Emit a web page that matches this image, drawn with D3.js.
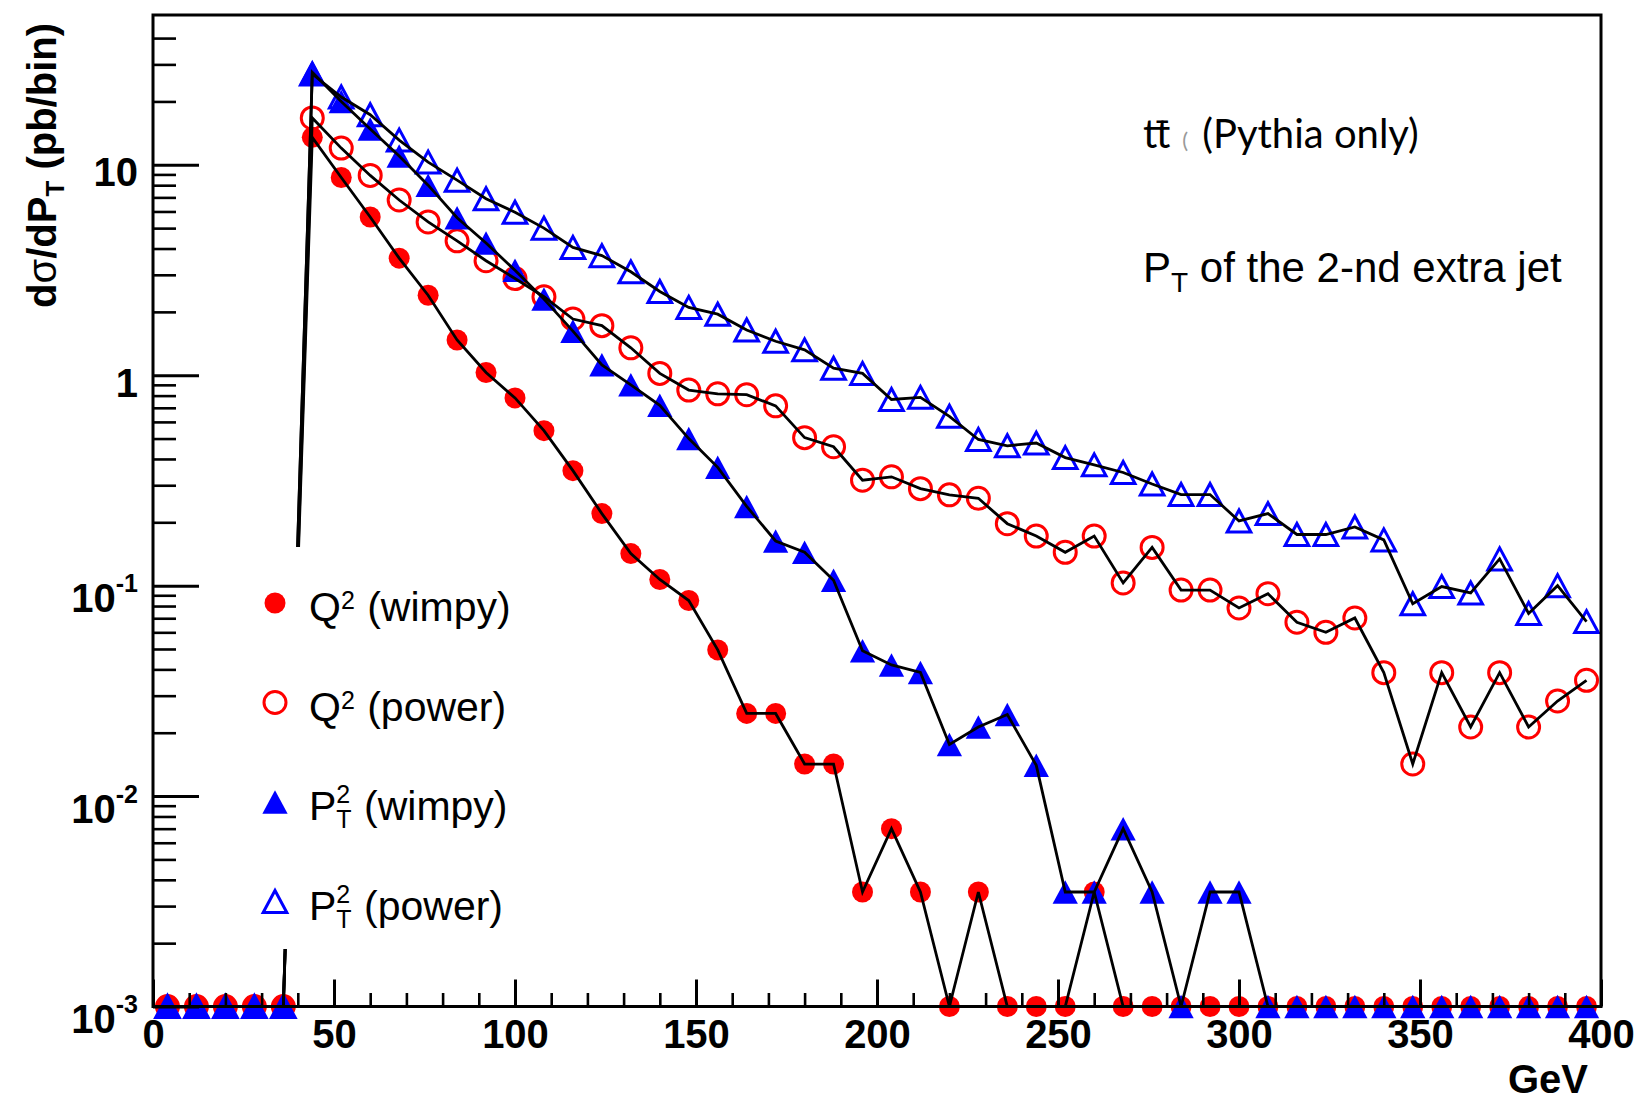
<!DOCTYPE html>
<html>
<head>
<meta charset="utf-8">
<title>PT of the 2-nd extra jet</title>
<script src="https://cdn.jsdelivr.net/npm/d3@7"></script>
<style>
  body { margin: 0; background: #fff; }
  text { font-family: "Liberation Sans", Arial, sans-serif; fill: #000; white-space: pre; }
</style>
</head>
<body>
<svg width="1644" height="1101"></svg>
<script>
// bin centres (GeV), 8 GeV bins
var binCenters = [4, 12, 20, 28, 36, 44, 52, 60, 68, 76, 84, 92, 100, 108, 116, 124, 132, 140, 148, 156,
  164, 172, 180, 188, 196, 204, 212, 220, 228, 236, 244, 252, 260, 268, 276, 284, 292, 300, 308, 316,
  324, 332, 340, 348, 356, 364, 372, 380, 388, 396];

// d sigma / dPT (pb/bin), 0 = empty bin
var q2Wimpy = [0, 0, 0, 0, 0, 13.5, 8.7, 5.65, 3.6, 2.4, 1.47, 1.03, 0.78, 0.545, 0.352, 0.22, 0.142, 0.107, 0.085, 0.0495,
  0.0247, 0.0247, 0.0142, 0.0142, 0.0035, 0.0070, 0.0035, 0, 0.0035, 0, 0, 0, 0.0035, 0, 0, 0, 0, 0, 0, 0,
  0, 0, 0, 0, 0, 0, 0, 0, 0, 0];
var q2Power = [0, 0, 0, 0, 0, 16.7, 12.0, 8.9, 6.8, 5.35, 4.35, 3.5, 2.88, 2.36, 1.85, 1.72, 1.35, 1.02, 0.85, 0.816,
  0.808, 0.715, 0.505, 0.457, 0.317, 0.329, 0.289, 0.27, 0.26, 0.197, 0.172, 0.144, 0.172, 0.103, 0.152, 0.0953, 0.0953, 0.0783, 0.0916, 0.067,
  0.06, 0.0702, 0.0386, 0.0142, 0.0386, 0.0213, 0.0386, 0.0213, 0.0283, 0.0355];
var pt2Wimpy = [0, 0, 0, 0, 0, 27.5, 20, 14.8, 11, 8.0, 5.6, 4.25, 3.15, 2.3, 1.62, 1.12, 0.90, 0.72, 0.50, 0.365,
  0.238, 0.163, 0.144, 0.106, 0.049, 0.042, 0.0387, 0.0176, 0.0213, 0.0244, 0.014, 0.0035, 0.0035, 0.0070, 0.0035, 0, 0.0035, 0.0035, 0, 0,
  0, 0, 0, 0, 0, 0, 0, 0, 0, 0];
var pt2Power = [0, 0, 0, 0, 0, 27, 21, 17.3, 13.1, 10.3, 8.45, 6.9, 5.95, 5.0, 4.05, 3.7, 3.1, 2.5, 2.1, 1.95,
  1.64, 1.45, 1.32, 1.08, 1.02, 0.767, 0.785, 0.638, 0.495, 0.462, 0.476, 0.406, 0.375, 0.345, 0.304, 0.271, 0.271, 0.203, 0.220, 0.175,
  0.175, 0.19, 0.165, 0.082, 0.099, 0.0923, 0.134, 0.0738, 0.1, 0.0675];

var xMajorTicks = [0, 50, 100, 150, 200, 250, 300, 350, 400];
var xMinorTicks = [10, 20, 30, 40, 60, 70, 80, 90, 110, 120, 130, 140, 160, 170, 180, 190, 210, 220, 230, 240,
  260, 270, 280, 290, 310, 320, 330, 340, 360, 370, 380, 390];
var yMajorTicks = [0.001, 0.01, 0.1, 1, 10];
var yMinorTicks = [0.002, 0.003, 0.004, 0.005, 0.006, 0.007, 0.008, 0.009,
  0.02, 0.03, 0.04, 0.05, 0.06, 0.07, 0.08, 0.09,
  0.2, 0.3, 0.4, 0.5, 0.6, 0.7, 0.8, 0.9,
  2, 3, 4, 5, 6, 7, 8, 9, 20, 30, 40];

var svg = d3.select("svg"),
    margin = {top: 15, right: 43, bottom: 94.5, left: 153},
    width = +svg.attr("width") - margin.left - margin.right,
    height = +svg.attr("height") - margin.top - margin.bottom,
    yFloor = 1e-3;

var x = d3.scaleLinear().domain([0, 400]).range([0, width]);
var y = d3.scaleLog().domain([yFloor, 51.5]).range([height, 0]);

var g = svg.append("g").attr("transform", `translate(${margin.left},${margin.top})`);

// ROOT style triangle, centred on its box
var triangle = {
  draw: function (ctx, size) {
    var r = Math.sqrt(size) / 2, h = r * 0.93;
    ctx.moveTo(-r, h); ctx.lineTo(r, h); ctx.lineTo(0, -h); ctx.closePath();
  }
};

var series = [
  {name: "q2Power", values: q2Power, marker: "circle", fill: "none", stroke: "#ff0000"},
  {name: "q2Wimpy", values: q2Wimpy, marker: "circle", fill: "#ff0000", stroke: "none"},
  {name: "pt2Power", values: pt2Power, marker: "triangle", fill: "none", stroke: "#0000ff"},
  {name: "pt2Wimpy", values: pt2Wimpy, marker: "triangle", fill: "#0000ff", stroke: "none"}
];

function clampY(v) { return y(v > yFloor ? v : yFloor); }

function drawMarker(sel, s) {
  if (s.marker === "circle") {
    sel.append("circle").attr("r", s.fill === "none" ? 11 : 10.5)
      .attr("fill", s.fill).attr("stroke", s.stroke).attr("stroke-width", 3);
  } else {
    sel.append("path").attr("d", d3.symbol().type(triangle).size(s.fill === "none" ? 560 : 640)())
      .attr("fill", s.fill).attr("stroke", s.stroke).attr("stroke-width", 3);
  }
}

// markers
series.forEach(function (s) {
  var mg = g.append("g").attr("class", "markers " + s.name);
  s.values.forEach(function (v, i) {
    var m = mg.append("g").attr("transform", `translate(${x(binCenters[i])},${clampY(v)})`);
    drawMarker(m, s);
  });
});

// black lines through the points
var line = d3.line()
  .x(function (d, i) { return x(binCenters[i]); })
  .y(function (d) { return clampY(d); });

series.forEach(function (s) {
  g.append("path").attr("class", "curve")
    .attr("fill", "none").attr("stroke", "#000").attr("stroke-width", 2.8)
    .attr("stroke-linejoin", "miter")
    .attr("d", line(s.values));
});

// axes, ticks inward
var xAxis = g.append("g").attr("transform", `translate(0,${height})`)
  .call(d3.axisBottom(x).tickValues(xMajorTicks).tickSizeInner(-27).tickSizeOuter(0).tickFormat(d3.format("d")));
xAxis.select(".domain").remove();
xAxis.selectAll("line").attr("stroke-width", 3);
xAxis.selectAll("text").attr("y", 41).attr("dy", null)
  .style("font-size", "40px").style("font-weight", "bold");

var xMinor = g.append("g").attr("transform", `translate(0,${height})`)
  .call(d3.axisBottom(x).tickValues(xMinorTicks).tickSizeInner(-13.5).tickSizeOuter(0).tickFormat(""));
xMinor.select(".domain").remove();
xMinor.selectAll("line").attr("stroke-width", 2.6);

var yAxis = g.append("g")
  .call(d3.axisLeft(y).tickValues(yMajorTicks).tickSizeInner(-46).tickSizeOuter(0).tickFormat(""));
yAxis.select(".domain").remove();
yAxis.selectAll("line").attr("stroke-width", 3);
yAxis.selectAll(".tick text").remove();
yAxis.selectAll(".tick").each(function (d) {
  var exp = Math.round(Math.log10(d));
  var t = d3.select(this).append("text").attr("x", -15).attr("text-anchor", "end")
    .style("font-size", "40px").style("font-weight", "bold");
  if (exp >= 0) {
    t.attr("y", 21).text(d3.format("d")(d));
  } else {
    t.attr("y", 26);
    t.append("tspan").text("10");
    t.append("tspan").attr("dy", -20).style("font-size", "25px").text(exp);
  }
});

var yMinor = g.append("g")
  .call(d3.axisLeft(y).tickValues(yMinorTicks).tickSizeInner(-23).tickSizeOuter(0).tickFormat(""));
yMinor.select(".domain").remove();
yMinor.selectAll("line").attr("stroke-width", 2.6);

// frame
g.append("rect").attr("width", width).attr("height", height)
  .attr("fill", "none").attr("stroke", "#000").attr("stroke-width", 3);

// rich text: pieces laid out left to right, "hold" stacks the next piece on top
function richText(parent, x0, y0, parts, anchor) {
  var grp = parent.append("g");
  var cx = 0, held = 0;
  parts.forEach(function (p) {
    var t = grp.append("text").attr("x", cx).attr("y", p.shift || 0)
      .attr("xml:space", "preserve")
      .style("font-size", p.size + "px")
      .style("font-weight", p.weight || "normal")
      .text(p.t);
    if (p.family) t.style("font-family", p.family);
    if (p.fill) t.style("fill", p.fill);
    var w = t.node().getComputedTextLength();
    if (p.hold) { held = w; }
    else { cx += Math.max(w, held); held = 0; }
    if (p.gap) cx += p.gap;
  });
  var off = anchor === "end" ? -cx : 0;
  grp.attr("transform", `translate(${x0 + off},${y0})`);
  return grp;
}

// legend
var legendItems = [
  {series: series[1], parts: [{t: "Q", size: 41}, {t: "2", size: 25, shift: -12, gap: 1}, {t: " (wimpy)", size: 41}]},
  {series: series[0], parts: [{t: "Q", size: 41}, {t: "2", size: 25, shift: -12, gap: 1}, {t: " (power)", size: 41}]},
  {series: series[3], parts: [{t: "P", size: 41}, {t: "2", size: 25, shift: -17, hold: true}, {t: "T", size: 25, shift: 8, gap: 1}, {t: " (wimpy)", size: 41}]},
  {series: series[2], parts: [{t: "P", size: 41}, {t: "2", size: 25, shift: -17, hold: true}, {t: "T", size: 25, shift: 8, gap: 1}, {t: " (power)", size: 41}]}
];
var legendRows = [603, 702.5, 802, 901.5];
svg.append("rect").attr("x", 238).attr("y", 547).attr("width", 292).attr("height", 402).attr("fill", "#fff");
legendItems.forEach(function (item, i) {
  var m = svg.append("g").attr("transform", `translate(275,${legendRows[i]})`);
  drawMarker(m, item.series);
  richText(svg, 309, legendRows[i] + 18, item.parts);
});

// y axis title
var yTitle = svg.append("g").attr("transform", "translate(56,23) rotate(-90)");
richText(yTitle, 0, 0, [
  {t: "d", size: 40, weight: "bold"},
  {t: "σ", size: 40},
  {t: "/dP", size: 40, weight: "bold"},
  {t: "T", size: 26, weight: "bold", shift: 8},
  {t: " (pb/bin)", size: 40, weight: "bold"}
], "end");

// x axis title
svg.append("text").attr("x", 1588).attr("y", 1093).attr("text-anchor", "end")
  .style("font-size", "40px").style("font-weight", "bold").text("GeV");

// annotations
richText(svg, 1143, 148, [
  {t: "tt\u0304", size: 40, family: "Lato, 'Open Sans', sans-serif", gap: 12},
  {t: "(", size: 22, family: "Lato, sans-serif", fill: "#999", gap: 14},
  {t: "(Pythia only)", size: 40, family: "Lato, 'Open Sans', sans-serif"}
]);
richText(svg, 1143, 282, [
  {t: "P", size: 42},
  {t: "T", size: 28, shift: 10},
  {t: " of the 2-nd extra jet", size: 42}
]);
</script>
</body>
</html>
